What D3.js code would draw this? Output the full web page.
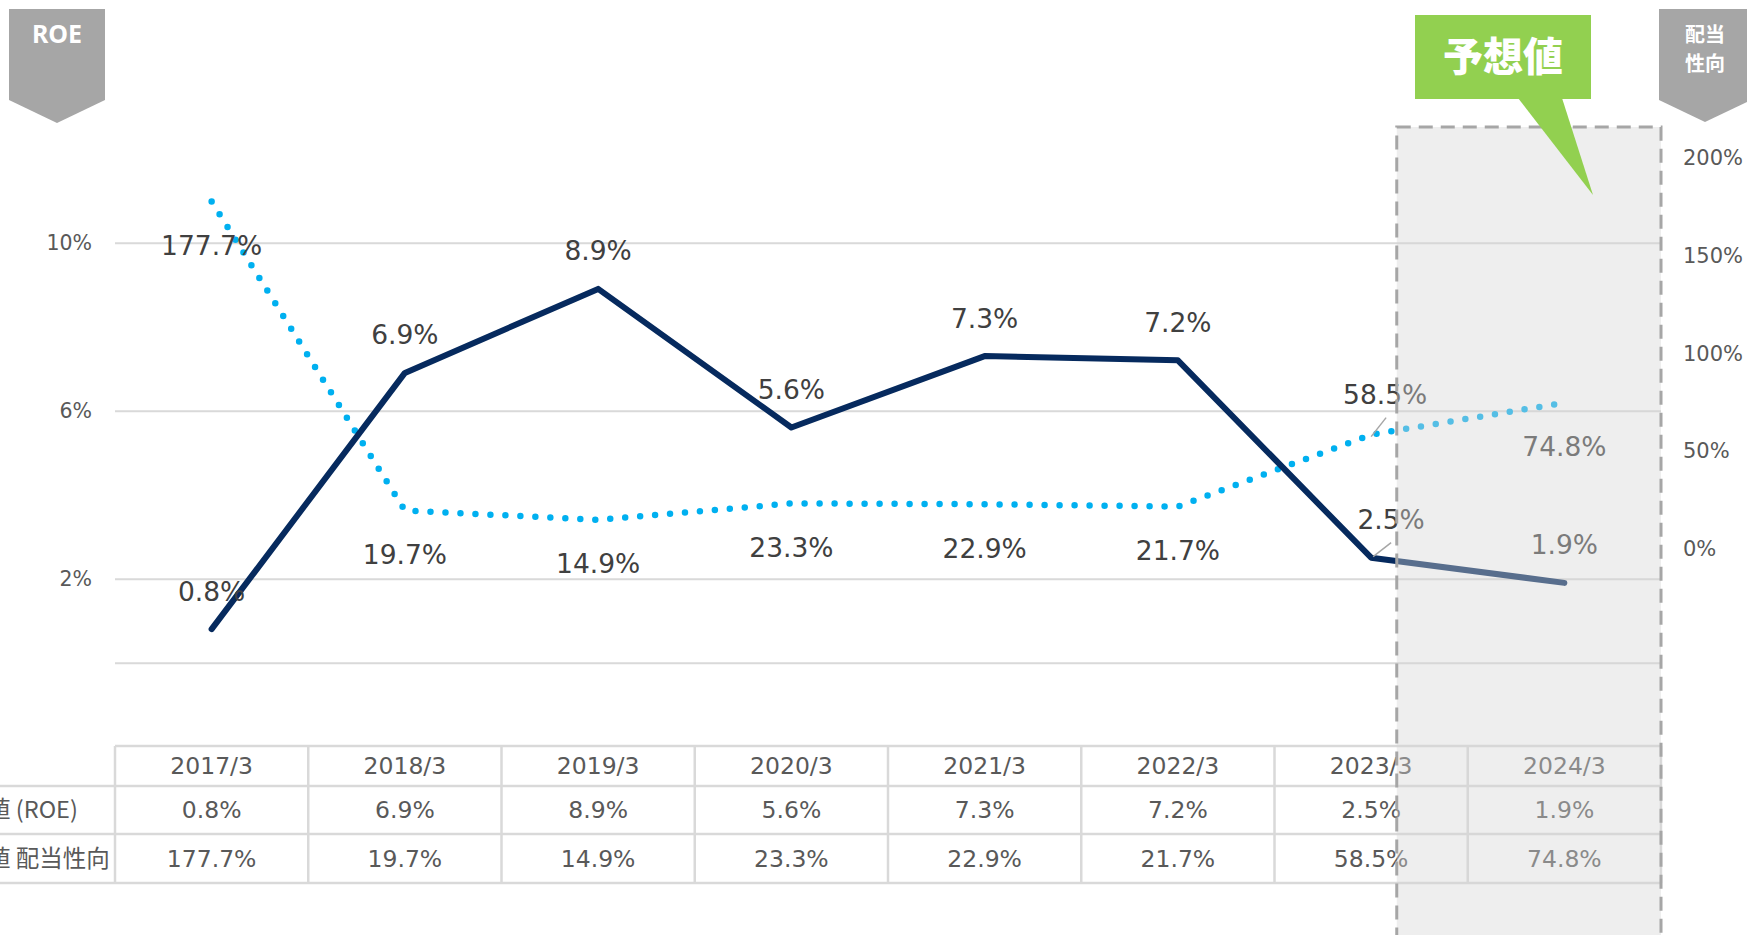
<!DOCTYPE html>
<html>
<head>
<meta charset="utf-8">
<script src="https://cdn.jsdelivr.net/npm/d3@7"></script>
<style>
  body { margin: 0; background: #fff; }
  svg { display: block; }
</style>
</head>
<body>
<svg id="chart"></svg>
<script>
var years = ["2017/3", "2018/3", "2019/3", "2020/3", "2021/3", "2022/3", "2023/3", "2024/3"]
var roe = [0.8, 6.9, 8.9, 5.6, 7.3, 7.2, 2.5, 1.9]
var payout = [177.7, 19.7, 14.9, 23.3, 22.9, 21.7, 58.5, 74.8]
var roeTicks = [2, 6, 10]
var payoutTicks = [0, 50, 100, 150, 200]
var rowNames = ["実績値 (ROE)", "実績値 配当性向"]
var forecastYear = "2024/3"

var W = 1747, H = 935
var numFont = "'DejaVu Sans', Verdana, sans-serif"
var cjkFont = "'Noto Sans CJK JP', 'Noto Sans', sans-serif"
var fmt = d => d.toFixed(1) + "%"

var svg = d3.select("#chart").attr("width", W).attr("height", H)

var x = d3.scaleBand().domain(years).range([115, 1661]).padding(0)
var cx = d => x(d) + x.bandwidth() / 2
var yL = d3.scaleLinear().domain([0, 12]).range([662.7, 158.7])
var yR = d3.scaleLinear().domain([0, 200]).range([549, 158])

// gridlines
var grid = svg.append("g")
  .attr("transform", "translate(115,0)")
  .call(d3.axisLeft(yL).tickValues([0].concat(roeTicks)).tickSize(-(1661 - 115)).tickFormat(""))
grid.select(".domain").remove()
grid.selectAll("line").attr("stroke", "#d9d9d9").attr("stroke-width", 2)

// left axis labels
var left = svg.append("g")
  .attr("transform", "translate(92,0)")
  .call(d3.axisLeft(yL).tickValues(roeTicks).tickSize(0).tickPadding(0).tickFormat(d => d + "%"))
left.select(".domain").remove()
left.selectAll("text").attr("font-family", numFont).attr("font-size", 20.5).attr("fill", "#595959")

// right axis labels
var right = svg.append("g")
  .attr("transform", "translate(1683,0)")
  .call(d3.axisRight(yR).tickValues(payoutTicks).tickSize(0).tickPadding(0).tickFormat(d => d + "%"))
right.select(".domain").remove()
right.selectAll("text").attr("font-family", numFont).attr("font-size", 21).attr("fill", "#595959")

// table
var rows = [746, 786, 834, 883]
var tbl = svg.append("g")
tbl.append("line").attr("x1", 115).attr("x2", 1661).attr("y1", rows[0]).attr("y2", rows[0])
rows.slice(1).forEach(r => {
  tbl.append("line").attr("x1", 0).attr("x2", 1661).attr("y1", r).attr("y2", r)
})
years.concat(["end"]).forEach((d, i) => {
  var xx = 115 + i * x.bandwidth()
  tbl.append("line").attr("x1", xx).attr("x2", xx).attr("y1", rows[0]).attr("y2", rows[3])
})
tbl.selectAll("line").attr("stroke", "#d9d9d9").attr("stroke-width", 2.5)

var cells = [years, roe.map(fmt), payout.map(fmt)]
cells.forEach((row, r) => {
  tbl.selectAll(null).data(row).enter().append("text")
    .attr("x", (d, i) => cx(years[i]))
    .attr("y", (rows[r] + rows[r + 1]) / 2)
    .attr("dy", "0.36em")
    .attr("text-anchor", "middle")
    .attr("font-family", numFont)
    .attr("font-size", 23.5)
    .attr("fill", "#595959")
    .text(d => d)
})
// row titles run off the left edge, as in the original
rowNames.forEach((t, r) => {
  tbl.append("text")
    .attr("x", -60)
    .attr("y", (rows[r + 1] + rows[r + 2]) / 2)
    .attr("dy", "0.36em")
    .attr("font-family", cjkFont)
    .attr("font-size", 23.5)
    .attr("fill", "#595959")
    .text(t)
})

// lines
svg.append("path")
  .datum(payout)
  .attr("fill", "none")
  .attr("stroke", "#00b0f0")
  .attr("stroke-width", 6.5)
  .attr("stroke-linecap", "round")
  .attr("stroke-dasharray", "0 15")
  .attr("d", d3.line().x((d, i) => cx(years[i])).y(d => yR(d)))

svg.append("path")
  .datum(roe)
  .attr("fill", "none")
  .attr("stroke", "#062a5e")
  .attr("stroke-width", 6)
  .attr("stroke-linecap", "round")
  .attr("stroke-linejoin", "round")
  .attr("d", d3.line().x((d, i) => cx(years[i])).y(d => yL(d)))

// data labels
var lab = svg.append("g")
  .attr("font-family", numFont)
  .attr("font-size", 26.5)
  .attr("fill", "#404040")
  .attr("text-anchor", "middle")

roe.forEach((v, i) => {
  var last2 = years[i] == "2023/3"
  lab.append("text")
    .attr("x", cx(years[i]) + (last2 ? 20 : 0))
    .attr("y", yL(v) - 38)
    .attr("dy", "0.36em")
    .text(fmt(v))
  if (last2) {
    svg.append("line")
      .attr("x1", cx(years[i]) + 2).attr("y1", yL(v) - 1)
      .attr("x2", cx(years[i]) + 20).attr("y2", yL(v) - 15)
      .attr("stroke", "#a6a6a6").attr("stroke-width", 1.5)
  }
})
payout.forEach((v, i) => {
  var last2 = years[i] == "2023/3"
  lab.append("text")
    .attr("x", cx(years[i]) + (last2 ? 14 : 0))
    .attr("y", last2 ? yR(v) - 40 : yR(v) + 44)
    .attr("dy", "0.36em")
    .text(fmt(v))
  if (last2) {
    svg.append("line")
      .attr("x1", cx(years[i])).attr("y1", yR(v) + 2)
      .attr("x2", cx(years[i]) + 15).attr("y2", yR(v) - 17)
      .attr("stroke", "#a6a6a6").attr("stroke-width", 1.5)
  }
})

// forecast overlay
var fx0 = x(forecastYear) - 71
var fx1 = x(forecastYear) + x.bandwidth()
svg.append("rect")
  .attr("x", fx0).attr("y", 127)
  .attr("width", fx1 - fx0).attr("height", H)
  .attr("fill", "rgba(212,212,212,0.4)")
  .attr("stroke", "#a6a6a6")
  .attr("stroke-width", 3)
  .attr("stroke-dasharray", "14 8")

// callout
var callout = svg.append("g")
callout.append("rect").attr("x", 1415).attr("y", 15).attr("width", 176).attr("height", 84).attr("fill", "#92d050")
callout.append("path").attr("d", "M1518,98 L1562,98 L1593,195 Z").attr("fill", "#92d050")
callout.append("text")
  .attr("x", 1503).attr("y", 57).attr("dy", "0.36em")
  .attr("text-anchor", "middle")
  .attr("font-family", cjkFont).attr("font-weight", 900).attr("font-size", 40)
  .attr("fill", "#fff")
  .text("予想値")

// axis badges
svg.append("path").attr("d", "M9,9 L105,9 L105,100 L57,123 L9,100 Z").attr("fill", "#a6a6a6")
svg.append("text")
  .attr("x", 57).attr("y", 34).attr("dy", "0.36em")
  .attr("text-anchor", "middle")
  .attr("font-family", "'Noto Sans', sans-serif").attr("font-weight", 700).attr("font-size", 25)
  .attr("fill", "#fff")
  .text("ROE")

svg.append("path").attr("d", "M1659,9 L1751,9 L1751,100 L1705,122 L1659,100 Z").attr("fill", "#a6a6a6")
var badge = svg.append("text")
  .attr("text-anchor", "middle")
  .attr("font-family", cjkFont).attr("font-weight", 700).attr("font-size", 20)
  .attr("fill", "#fff")
badge.append("tspan").attr("x", 1705).attr("y", 42).text("配当")
badge.append("tspan").attr("x", 1705).attr("y", 71).text("性向")
</script>
</body>
</html>
